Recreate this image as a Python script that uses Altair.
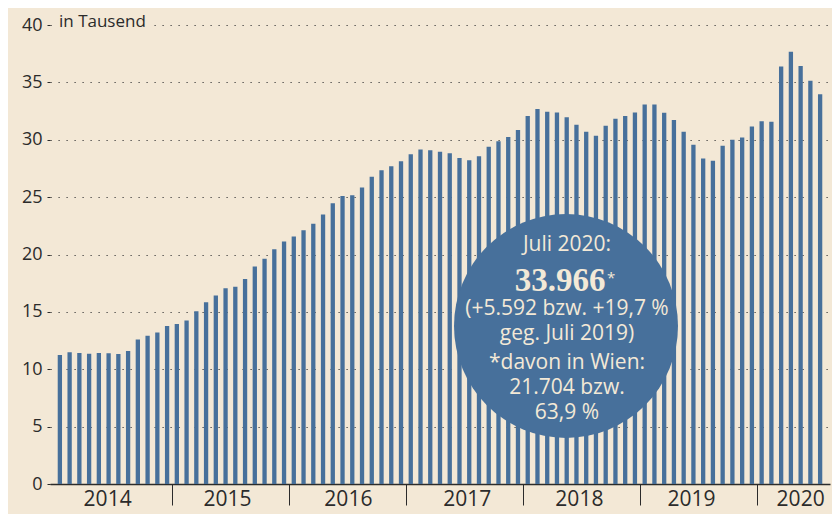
import altair as alt
import pandas as pd

# Monthly values (in thousands), Jan 2014 - Jul 2020
values = [
    11.25, 11.48, 11.42, 11.36, 11.42, 11.39, 11.33, 11.60, 12.60, 12.93, 13.20, 13.77,  # 2014
    13.95, 14.24, 15.06, 15.84, 16.42, 17.06, 17.18, 17.87, 18.95, 19.64, 20.46, 21.13,  # 2015
    21.56, 22.12, 22.67, 23.48, 24.47, 25.10, 25.17, 25.83, 26.77, 27.35, 27.70, 28.13,  # 2016
    28.74, 29.15, 29.09, 28.95, 28.83, 28.42, 28.22, 28.57, 29.38, 29.88, 30.25, 30.86,  # 2017
    32.08, 32.67, 32.43, 32.37, 31.97, 31.30, 30.69, 30.34, 31.21, 31.82, 32.06, 32.37,  # 2018
    33.07, 33.07, 32.35, 31.73, 30.69, 29.56, 28.37, 28.16, 29.47, 29.99, 30.19, 31.15,  # 2019
    31.62, 31.56, 36.38, 37.66, 36.42, 35.14, 33.966,                                   # 2020
]
years = ["2014", "2015", "2016", "2017", "2018", "2019", "2020"]
year_label_pos = [4.9, 17.2, 29.6, 41.8, 53.3, 64.8, 76.0]
year_separators = [11.5, 23.5, 35.5, 47.5, 59.5, 71.5]
y_ticks = [0, 5, 10, 15, 20, 25, 30, 35, 40]

ann_lines = ["Juli 2020:", "(+5.592 bzw. +19,7 %", "geg. Juli 2019)",
             "*davon in Wien:", "21.704 bzw.", "63,9 %"]
ann_big = "33.966"

BAR = "#47709b"
BG = "#f3e8d6"
TXT = "#2b2b2b"
CREAM = "#f3e9d7"
FONT = "Open Sans"

W, H = 780, 459

df = pd.DataFrame({"idx": list(range(len(values))), "value": values})
ydf = pd.DataFrame({"pos": year_label_pos, "year": years})

xscale = alt.Scale(domain=[-0.5, 78.5], nice=False, zero=False)
yscale = alt.Scale(domain=[0, 40], nice=False)

bars = alt.Chart(df).mark_bar(size=4.3, color=BAR).encode(
    x=alt.X("idx:Q", scale=xscale,
            axis=alt.Axis(values=year_separators, labels=False, tickSize=21,
                          tickColor=TXT, tickWidth=1, domainColor=TXT,
                          domainWidth=1.5, grid=False, title=None)),
    y=alt.Y("value:Q", scale=yscale,
            axis=alt.Axis(values=y_ticks, grid=True, gridDash=[1.2, 6.8],
                          gridColor="#3a3a3a", gridWidth=1.2, domain=False,
                          tickSize=3, tickColor=TXT, labelFontSize=18,
                          labelColor=TXT, labelFont=FONT, labelPadding=5,
                          title=None)),
)

one = pd.DataFrame({"a": [0]})

title_bg = alt.Chart(one).mark_rect(color=BG).encode(
    x=alt.value(3), x2=alt.value(100), y=alt.value(-10), y2=alt.value(8)
)
title_txt = alt.Chart(one).mark_text(font=FONT, fontSize=17, color=TXT,
                                     align="left", baseline="middle").encode(
    x=alt.value(9), y=alt.value(-3), text=alt.value("in Tausend")
)

year_text = alt.Chart(ydf).mark_text(font=FONT, fontSize=21, color=TXT,
                                     baseline="middle", align="center").encode(
    x=alt.X("pos:Q", scale=xscale),
    y=alt.value(H + 16),
    text="year:N",
)

D = 224  # circle diameter in px
circle = alt.Chart(one).mark_circle(size=D * D, color=BAR, opacity=1).encode(
    x=alt.value(516), y=alt.value(301)
)

layers = [bars, title_bg, title_txt, year_text, circle]
line_y = [220, 284, 309, 338, 363, 388]
for t, yy in zip(ann_lines, line_y):
    layers.append(
        alt.Chart(one).mark_text(font=FONT, fontSize=21, color=CREAM,
                                 align="center", baseline="middle").encode(
            x=alt.value(517), y=alt.value(yy), text=alt.value(t))
    )
layers.append(
    alt.Chart(one).mark_text(font="Liberation Serif", fontSize=33, fontWeight="bold",
                             color=CREAM, align="center", baseline="middle").encode(
        x=alt.value(510), y=alt.value(256), text=alt.value(ann_big))
)
layers.append(
    alt.Chart(one).mark_text(font=FONT, fontSize=15, color=CREAM,
                             align="left", baseline="middle").encode(
        x=alt.value(557), y=alt.value(253), text=alt.value("*"))
)

chart = alt.layer(*layers).properties(
    width=W, height=H,
    autosize=alt.AutoSizeParams(type="none"),
    padding={"left": 42, "top": 17, "right": 2, "bottom": 34},
    background=BG,
).configure_view(stroke=None)

chart.save("out.html", embed_options={"renderer": "svg", "actions": False})
